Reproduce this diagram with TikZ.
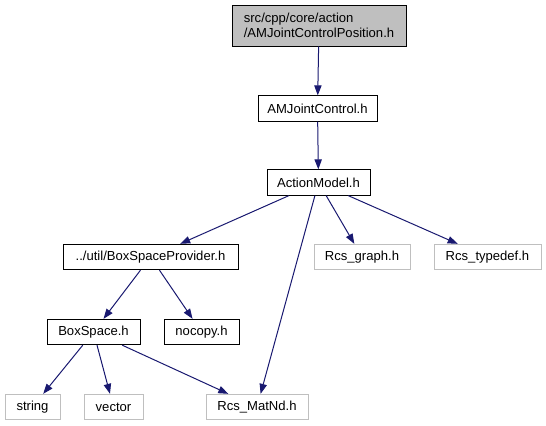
\documentclass[tikz,border=0pt]{standalone}
\usepackage{fontspec}
\setmainfont{Liberation Sans}
\usetikzlibrary{arrows.meta}
\definecolor{edgeblue}{HTML}{191970}
\definecolor{boxgray}{HTML}{BFBFBF}
\tikzset{
  filebox/.style={draw=black, line width=0.75pt, fill=white, inner sep=0pt, minimum height=19pt,
    font=\fontsize{9.8}{11.5}\selectfont},
  extbox/.style={filebox, draw=boxgray},
  rootbox/.style={filebox, fill=boxgray, minimum height=30.75pt, align=left},
  dep/.style={draw=edgeblue, line width=0.75pt, -{Triangle[length=7.5pt,width=5.5pt]}, color=edgeblue}
}
\begin{document}
\begin{tikzpicture}[x=0.75pt,y=-0.75pt]
\useasboundingbox (0,0) rectangle (546,425);
\node[rootbox, minimum width=130.5pt] (root) at (319,25.5) {src/cpp/core/action\\/AMJointControlPosition.h};
\node[filebox, minimum width=89.25pt] (amjc) at (317.5,108.5) {AMJointControl.h};
\node[filebox, minimum width=77.25pt] (am) at (318.5,182.5) {ActionModel.h};
\node[filebox, minimum width=131.25pt] (bsp) at (150.5,257) {../util/BoxSpaceProvider.h};
\node[extbox, minimum width=72pt] (graph) at (362,257) {Rcs\_graph.h};
\node[extbox, minimum width=80.25pt] (typedef) at (487.5,257) {Rcs\_typedef.h};
\node[filebox, minimum width=69.75pt] (bs) at (93.5,332) {BoxSpace.h};
\node[filebox, minimum width=56.25pt] (nocopy) at (201.5,332) {nocopy.h};
\node[extbox, minimum width=41.25pt] (string) at (32.5,407) {string};
\node[extbox, minimum width=44.25pt] (vector) at (113.5,407) {vector};
\node[extbox, minimum width=76.5pt] (matnd) at (257,407) {Rcs\_MatNd.h};
\draw[dep] (root) -- (amjc);
\draw[dep] (amjc) -- (am);
\draw[dep] (am) -- (bsp);
\draw[dep] (am) -- (matnd);
\draw[dep] (am) -- (graph);
\draw[dep] (am) -- (typedef);
\draw[dep] (bsp) -- (bs);
\draw[dep] (bsp) -- (nocopy);
\draw[dep] (bs) -- (string);
\draw[dep] (bs) -- (vector);
\draw[dep] (bs) -- (matnd);
\end{tikzpicture}
\end{document}
